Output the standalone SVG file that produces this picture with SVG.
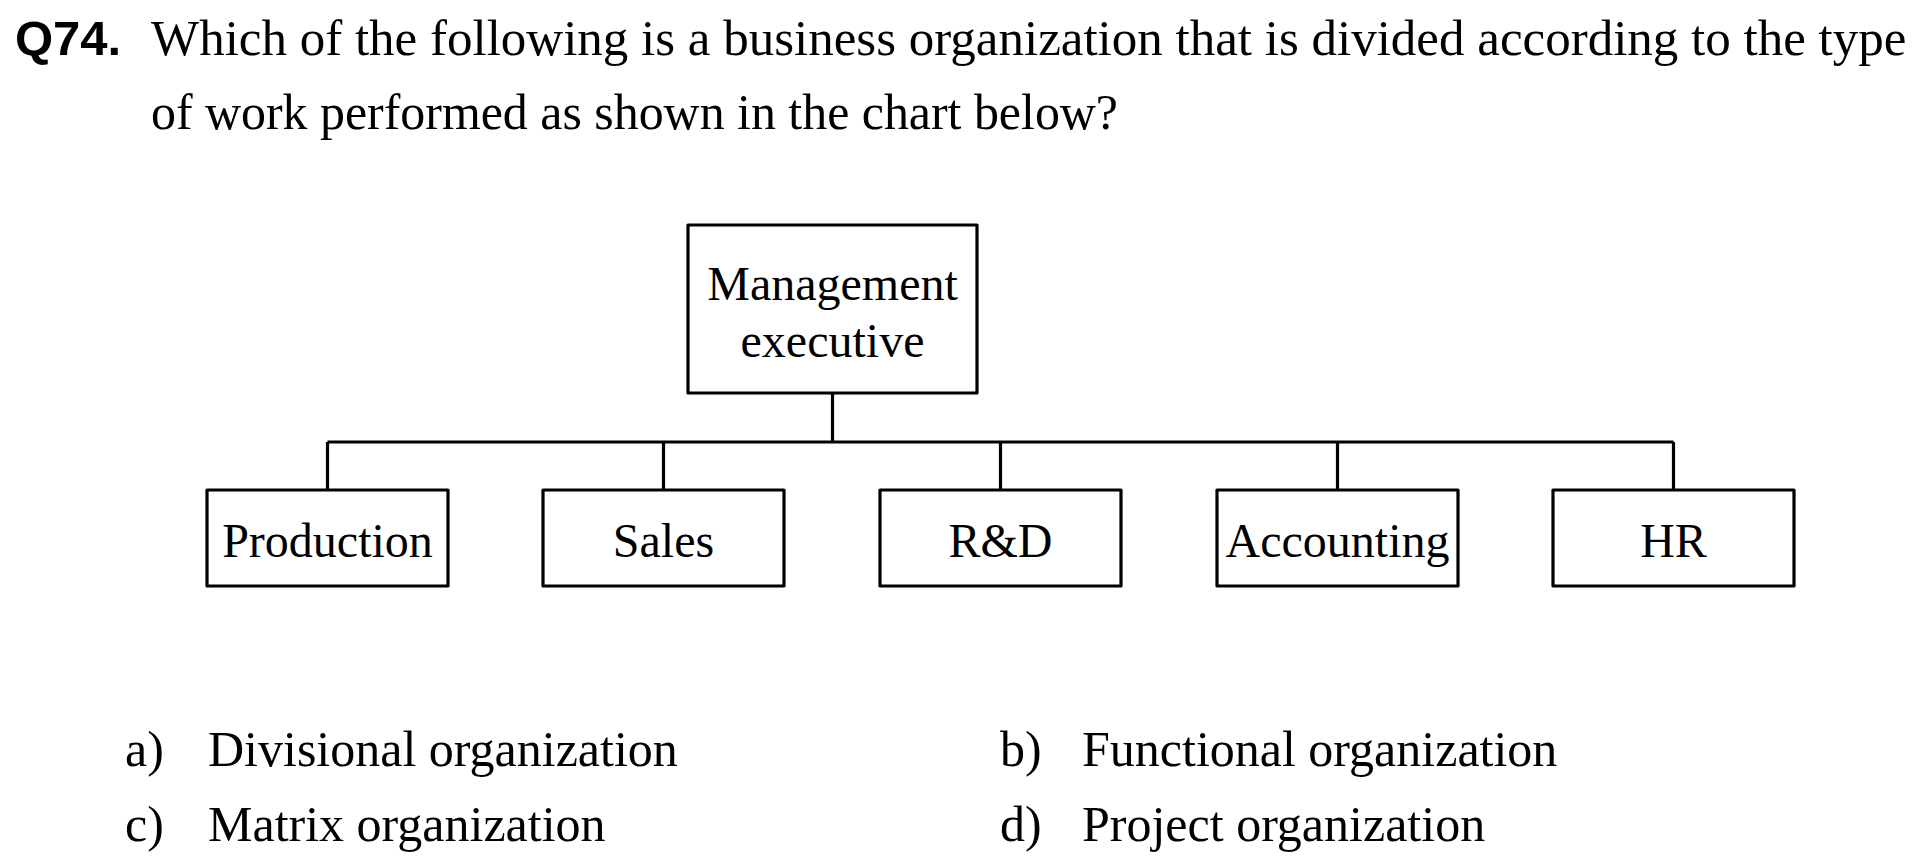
<svg xmlns="http://www.w3.org/2000/svg" width="1919" height="868" viewBox="0 0 1919 868">
<style>
.q{font-family:"Liberation Sans",Arial,sans-serif;font-weight:bold;font-size:49px;fill:#000}
.t{font-family:"Liberation Serif","Times New Roman",serif;font-size:51px;fill:#000}
.a{font-family:"Liberation Serif","Times New Roman",serif;font-size:50px;fill:#000}
.n{font-family:"Liberation Serif","Times New Roman",serif;font-size:48px;fill:#000;text-anchor:middle}
.box{fill:#fff;stroke:#000;stroke-width:3.2;stroke-linejoin:round}
.ln{fill:none;stroke:#000;stroke-width:3.2;stroke-linejoin:round}
</style>
<rect width="1919" height="868" fill="#fff"/>
<g id="question">
<text class="q" x="15" y="55">Q74.</text>
<text class="t" x="151" y="55">Which of the following is a business organization that is divided according to the type</text>
<text class="t" x="151" y="129" textLength="967" lengthAdjust="spacingAndGlyphs">of work performed as shown in the chart below?</text>
</g>
<g id="connectors">
<line class="ln" x1="832.5" y1="393" x2="832.5" y2="442"/>
<line class="ln" x1="327.5" y1="442" x2="1673.5" y2="442"/>
<line class="ln" x1="327.5" y1="442" x2="327.5" y2="490"/>
<line class="ln" x1="663.5" y1="442" x2="663.5" y2="490"/>
<line class="ln" x1="1000.5" y1="442" x2="1000.5" y2="490"/>
<line class="ln" x1="1337.5" y1="442" x2="1337.5" y2="490"/>
<line class="ln" x1="1673.5" y1="442" x2="1673.5" y2="490"/>
</g>
<g id="management">
<rect class="box" x="688" y="225" width="289" height="168"/>
<text class="n" x="832.5" y="300">Management</text>
<text class="n" x="832.5" y="357">executive</text>
</g>
<g id="production">
<rect class="box" x="207" y="490" width="241" height="96"/>
<text class="n" x="327.5" y="557">Production</text>
</g>
<g id="sales">
<rect class="box" x="543" y="490" width="241" height="96"/>
<text class="n" x="663.5" y="557">Sales</text>
</g>
<g id="rnd">
<rect class="box" x="880" y="490" width="241" height="96"/>
<text class="n" x="1000.5" y="557">R&amp;D</text>
</g>
<g id="accounting">
<rect class="box" x="1217" y="490" width="241" height="96"/>
<text class="n" x="1337.5" y="557">Accounting</text>
</g>
<g id="hr">
<rect class="box" x="1553" y="490" width="241" height="96"/>
<text class="n" x="1673.5" y="557">HR</text>
</g>
<g id="answers">
<text class="a" x="125" y="766">a)</text>
<text class="a" x="208" y="766">Divisional organization</text>
<text class="a" x="1000" y="766">b)</text>
<text class="a" x="1082" y="766">Functional organization</text>
<text class="a" x="125" y="841">c)</text>
<text class="a" x="208" y="841">Matrix organization</text>
<text class="a" x="1000" y="841">d)</text>
<text class="a" x="1082" y="841">Project organization</text>
</g>
</svg>
